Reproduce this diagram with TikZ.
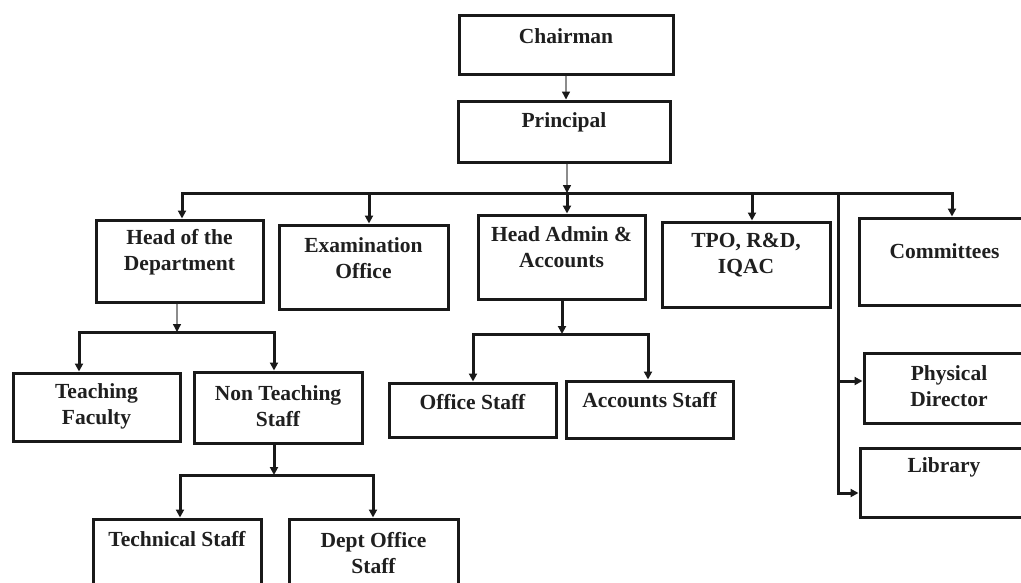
\documentclass[tikz,border=0pt]{standalone}
\usepackage{fontspec}
\setmainfont{Liberation Serif}
\usetikzlibrary{arrows.meta}
\begin{document}
\begin{tikzpicture}[x=1pt,y=-1pt,
 box/.style 2 args={draw=black!90,line width=3pt,minimum width=#1pt,minimum height=#2pt,inner sep=0pt},
 lbl/.style={font=\fontsize{21.5}{26}\selectfont\bfseries,align=center,text=black!88,inner sep=0pt},
 ln/.style={draw=black!90,line width=3pt},
 arr/.style={ln,-{Triangle[length=8pt,width=8pt]}},
 garr/.style={draw=black!45,line width=1.4pt,-{Triangle[length=8pt,width=8pt,color=black!90]}}]
\useasboundingbox (0,0) rectangle (1021,582);
\fill[white] (0,0) rectangle (1021,582);
\clip (0,0) rectangle (1021,582);

% boxes
\node[box={214}{59}] (chair) at (566,44.5) {};
\node[lbl] (chair-t) at ([yshift=8.5pt]chair.center) {Chairman};
\node[box={212}{61}] (prin) at (564,131.5) {};
\node[lbl] (prin-t) at ([yshift=9.5pt]prin.center) {Principal};

\node[box={167}{82}] (hod) at (179.5,261) {};
\node[lbl] (hod-t) at ([yshift=9pt]hod.center) {Head of the\\Department};
\node[box={169}{84}] (exam) at (363.5,267) {};
\node[lbl] (exam-t) at ([yshift=8.5pt]exam.center) {Examination\\Office};
\node[box={167}{84}] (admin) at (561.5,257) {};
\node[lbl] (admin-t) at ([yshift=9.5pt]admin.center) {Head Admin \&\\Accounts};
\node[box={168}{85}] (tpo) at (746,264.5) {};
\node[lbl] (tpo-t) at ([yshift=9pt]tpo.center) {TPO, R\&D,\\IQAC};
\node[box={171}{87}] (comm) at (944.5,261.5) {};
\node[lbl] (comm-t) at ([yshift=10.5pt]comm.center) {Committees};

\node[box={170}{70}] (phys) at (949,388) {};
\node[lbl] (phys-t) at ([yshift=1.5pt]phys.center) {Physical\\Director};
\node[box={168}{69}] (lib) at (944,482.5) {};
\node[lbl] (lib-t) at ([yshift=15.5pt]lib.center) {Library};

\node[box={167}{68}] (tf) at (96.5,407) {};
\node[lbl] (tf-t) at ([yshift=0.5pt]tf.center) {Teaching\\Faculty};
\node[box={168}{71}] (nts) at (278,407.5) {};
\node[lbl] (nts-t) at ([yshift=1pt]nts.center) {Non Teaching\\Staff};

\node[box={167}{54}] (office) at (472.5,410) {};
\node[lbl] (office-t) at ([yshift=8pt]office.center) {Office Staff};
\node[box={167}{57}] (acc) at (649.5,409.5) {};
\node[lbl] (acc-t) at ([yshift=9.5pt]acc.center) {Accounts Staff};

\node[box={168}{81}] (tech) at (177,559.5) {};
\node[lbl] (tech-t) at ([yshift=20.5pt]tech.center) {Technical Staff};
\node[box={169}{81}] (dept) at (373.5,559.5) {};
\node[lbl] (dept-t) at ([yshift=6.5pt]dept.center) {Dept Office\\Staff};

% junctions
\coordinate (j0) at (567,193);
\coordinate (bL) at (182,193);
\coordinate (bR) at (952,193);
\coordinate (bE) at (369,193);
\coordinate (bT) at (752,193);
\coordinate (v) at (838,193);
\coordinate (v1) at (838,381);
\coordinate (v2) at (838,493);
\coordinate (h0) at (177,332);
\coordinate (hL) at (79,332);
\coordinate (hR) at (274,332);
\coordinate (n0) at (274,475);
\coordinate (nL) at (180,475);
\coordinate (nR) at (373,475);
\coordinate (a0) at (562,334);
\coordinate (aL) at (473,334);
\coordinate (aR) at (648,334);

% connectors
\draw[garr] (chair.south) -- (chair.south |- prin.north);
\draw[garr] (prin.south -| j0) -- (j0);
\draw[arr] (j0) -- (bL) -- (bL |- hod.north);
\draw[arr] (j0) -- (bR) -- (bR |- comm.north);
\draw[arr] (bE) -- (bE |- exam.north);
\draw[arr] (j0) -- (j0 |- admin.north);
\draw[arr] (bT) -- (bT |- tpo.north);
\draw[arr] (v) -- (v2) -- (v2 -| lib.west);
\draw[arr] (v1) -- (v1 -| phys.west);

\draw[garr] (hod.south -| h0) -- (h0);
\draw[arr] (h0) -- (hL) -- (hL |- tf.north);
\draw[arr] (h0) -- (hR) -- (hR |- nts.north);

\draw[arr] (nts.south -| n0) -- (n0);
\draw[arr] (n0) -- (nL) -- (nL |- tech.north);
\draw[arr] (n0) -- (nR) -- (nR |- dept.north);

\draw[arr] (admin.south -| a0) -- (a0);
\draw[arr] (a0) -- (aL) -- (aL |- office.north);
\draw[arr] (a0) -- (aR) -- (aR |- acc.north);
\end{tikzpicture}
\end{document}
